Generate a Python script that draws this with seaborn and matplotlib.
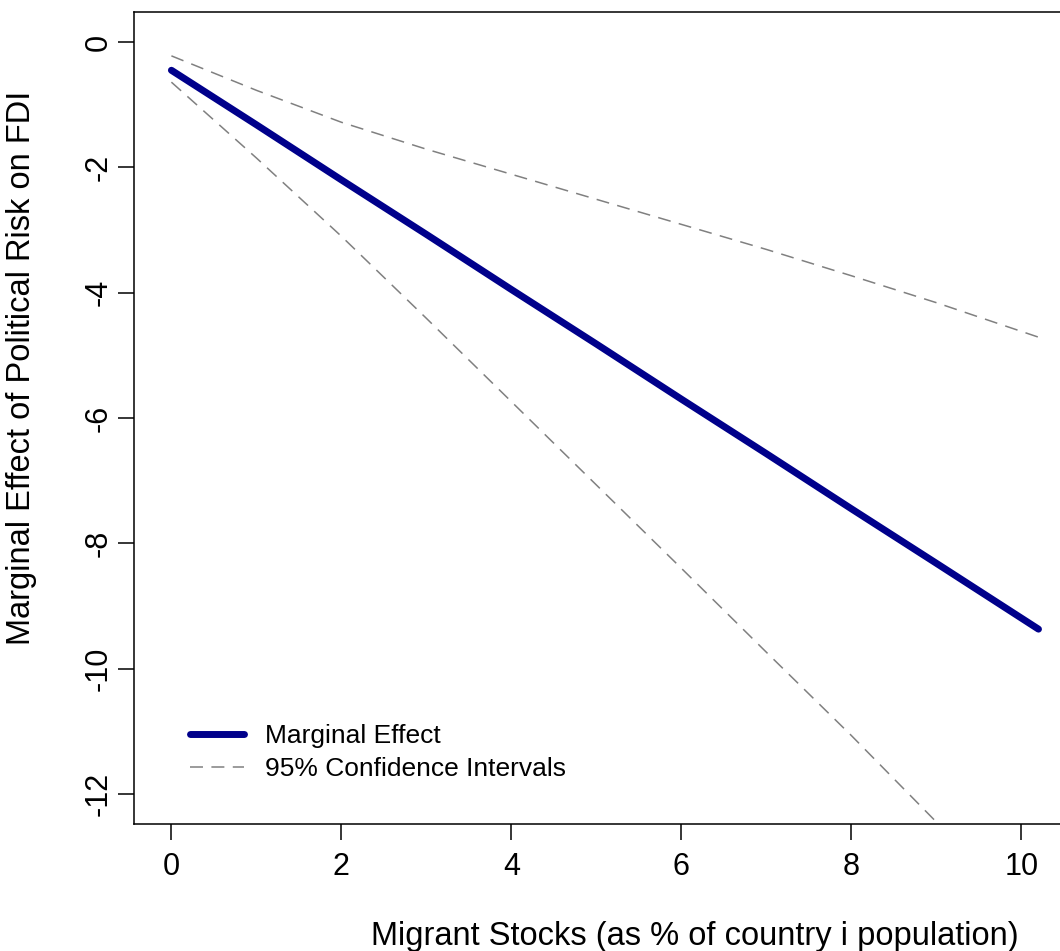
import matplotlib
matplotlib.use("Agg")
import matplotlib.pyplot as plt
import seaborn as sns

# Values
migrant_stock = [0, 1, 2, 3, 4, 5, 6, 7, 8, 9, 10.2]
marginal_effect = [-0.45, -1.32, -2.20, -3.07, -3.95, -4.82, -5.70, -6.57, -7.45, -8.32, -9.37]
ci_upper = [-0.22, -0.77, -1.28, -1.71, -2.11, -2.51, -2.91, -3.31, -3.73, -4.16, -4.71]
ci_lower = [-0.64, -1.85, -3.10, -4.41, -5.74, -7.07, -8.40, -9.74, -11.07, -12.45, -14.10]

x_ticks = [0, 2, 4, 6, 8, 10]
y_ticks = [0, -2, -4, -6, -8, -10, -12]
y_tick_labels = ["0", "-2", "-4", "-6", "-8", "-10", "-12"]

sns.set_style("ticks", {"axes.edgecolor": "black", "xtick.color": "black", "ytick.color": "black",
                        "text.color": "black", "axes.labelcolor": "black"})
plt.rcParams['font.family'] = ['Liberation Sans', 'DejaVu Sans']
plt.rcParams['axes.unicode_minus'] = False

W, H = 1060, 951
fig = plt.figure(figsize=(W / 100, H / 100), dpi=100)
ax = fig.add_axes([134 / W, (H - 824) / H, 930 / W, 812 / H])

dash = (0, (8.5, 5.5))
sns.lineplot(x=migrant_stock, y=marginal_effect, ax=ax, color="#00008B",
             linewidth=5, solid_capstyle="round", label="Marginal Effect")
sns.lineplot(x=migrant_stock, y=ci_upper, ax=ax, color="gray", linewidth=1.1,
             linestyle=dash, label="95% Confidence Intervals")
sns.lineplot(x=migrant_stock, y=ci_lower, ax=ax, color="gray", linewidth=1.1,
             linestyle=dash, legend=False)

ax.set_xlim(-0.44, 10.5)
ax.set_ylim(-12.48, 0.48)
ax.set_xticks(x_ticks)
ax.set_xticklabels([str(t) for t in x_ticks])
ax.set_yticks(y_ticks)
ax.set_yticklabels(y_tick_labels, rotation=90, va="center")
ax.tick_params(axis="both", direction="out", length=11.5, width=1.1, labelsize=22,
               colors="black")
ax.tick_params(axis="x", pad=9)
ax.tick_params(axis="y", pad=3)
for sp in ax.spines.values():
    sp.set_linewidth(1.1)
    sp.set_visible(True)
ax.set_xlabel("")
ax.set_ylabel("")

ax.legend(loc="lower left", bbox_to_anchor=((190 - 134) / 930, (824 - 781) / 812),
          frameon=False, fontsize=19, borderpad=0, borderaxespad=0,
          handlelength=2.05, handletextpad=0.8, labelspacing=0.33)

fig.text(695 / W, 1 - 936 / H, "Migrant Stocks (as % of country i population)",
         ha="center", va="center", fontsize=23.5)
fig.text(22 / W, 1 - 368 / H, "Marginal Effect of Political Risk on FDI",
         ha="center", va="center", rotation=90, fontsize=23.5)

fig.savefig("out.png", dpi=100)
